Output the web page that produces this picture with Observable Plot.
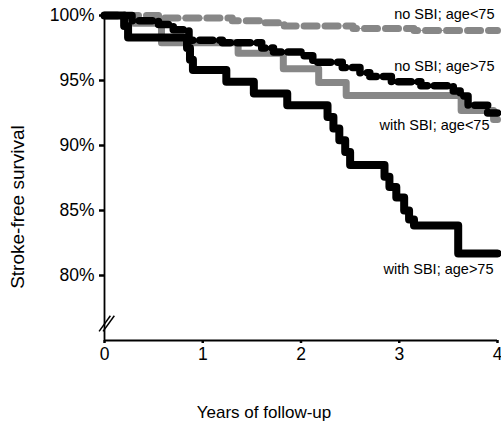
<!DOCTYPE html>
<html>
<head>
<meta charset="utf-8">
<script src="https://cdn.jsdelivr.net/npm/d3@7"></script>
<script src="https://cdn.jsdelivr.net/npm/@observablehq/plot@0.6"></script>
<style>
  html, body { margin: 0; padding: 0; background: #fff; }
</style>
</head>
<body>
<script>
// Kaplan–Meier stroke-free survival (%) by follow-up year, four groups
const noSbiYoungYears = [0, 0.55, 1.3, 1.6, 1.83, 2.53, 3.15, 4.0];
const noSbiYoungSurv  = [100, 99.8, 99.6, 99.45, 99.2, 99.0, 98.85, 98.85];

const noSbiOldYears = [0, 0.28, 0.55, 0.7, 0.86, 1.2, 1.6, 1.72, 2.0, 2.12, 2.42, 2.6, 2.7, 2.92, 3.22, 3.55, 3.62, 3.7, 3.9, 4.0];
const noSbiOldSurv  = [100, 99.6, 99.3, 98.9, 98.1, 97.9, 97.5, 97.2, 96.9, 96.4, 96.0, 95.6, 95.3, 94.9, 94.6, 94.2, 93.8, 93.1, 92.5, 92.5];

const sbiYoungYears = [0, 0.3, 0.58, 1.36, 1.82, 2.18, 2.46, 3.63, 3.96, 4.0];
const sbiYoungSurv  = [100, 99.4, 97.9, 97.1, 95.9, 94.85, 93.85, 92.7, 92.0, 92.0];

const sbiOldYears = [0, 0.2, 0.24, 0.84, 0.87, 0.9, 1.24, 1.52, 1.86, 2.27, 2.33, 2.39, 2.45, 2.5, 2.85, 2.9, 2.97, 3.05, 3.1, 3.15, 3.6, 4.0];
const sbiOldSurv  = [100, 99.2, 98.3, 97.5, 96.6, 95.8, 94.9, 94.0, 93.1, 92.2, 91.3, 90.4, 89.5, 88.5, 87.6, 86.8, 86.0, 85.0, 84.3, 83.85, 81.7, 81.7];

const groupLabels = ["no SBI; age<75", "no SBI; age>75", "with SBI; age<75", "with SBI; age>75"];
const yTicks = [80, 85, 90, 95, 100];
const xTicks = [0, 1, 2, 3, 4];
const xTitle = "Years of follow-up";
const yTitle = "Stroke-free survival";

const rows = (years, surv) => years.map((t, i) => ({year: t, surv: surv[i]}));
const noSbiYoung = rows(noSbiYoungYears, noSbiYoungSurv);
const noSbiOld = rows(noSbiOldYears, noSbiOldSurv);
const sbiYoung = rows(sbiYoungYears, sbiYoungSurv);
const sbiOld = rows(sbiOldYears, sbiOldSurv);

const GRAY = "#878787";
const FONT = "'Liberation Sans', Arial, Helvetica, sans-serif";

// a step curve drawn thick; dashed groups also get a thin dotted connector
function km(data, stroke, width, dash) {
  const base = {x: "year", y: "surv", curve: "step-after", stroke, strokeWidth: width, strokeLinejoin: "round"};
  if (!dash) return [Plot.line(data, base)];
  return [
    Plot.line(data, {...base, strokeWidth: 1, strokeDasharray: "1,3"}),
    Plot.line(data, {...base, strokeDasharray: dash})
  ];
}

function endLabel(data, text, dx, dy) {
  const last = data[data.length - 1];
  return Plot.text([last], {x: "year", y: "surv", text: () => text, textAnchor: "end", dx, dy, fontSize: 14.5});
}

// axis-break tick pair near the bottom of the y axis
const breakA = [{x1: -0.055, y1: 75.7, x2: 0.06, y2: 76.9}];
const breakB = [{x1: -0.015, y1: 75.7, x2: 0.1, y2: 76.9}];

const chart = Plot.plot({
  width: 501,
  height: 427,
  marginLeft: 104,
  marginRight: 4,
  marginTop: 15,
  marginBottom: 87,
  style: {fontFamily: FONT, fontSize: "17px", color: "#000", background: "#fff", overflow: "visible"},
  x: {domain: [0, 4]},
  y: {domain: [75, 100]},
  marks: [
    Plot.axisY({ticks: yTicks, tickFormat: d => d + "%", tickSize: 5, tickPadding: 5, strokeWidth: 2.5, label: null, fontSize: 17.5}),
    Plot.axisX({ticks: xTicks, tickFormat: d => String(d), tickSize: 3, tickPadding: 4, strokeWidth: 2.5, label: null, fontSize: 17.5}),
    Plot.ruleX([0], {y1: 75, y2: 100, strokeWidth: 1.8}),
    Plot.ruleY([75], {x1: 0, x2: 4, strokeWidth: 1.8}),
    Plot.link(breakA, {x1: "x1", y1: "y1", x2: "x2", y2: "y2", strokeWidth: 1.5}),
    Plot.link(breakB, {x1: "x1", y1: "y1", x2: "x2", y2: "y2", strokeWidth: 1.5}),
    ...km(noSbiYoung, GRAY, 7, "13,8"),
    ...km(sbiYoung, GRAY, 7),
    ...km(sbiOld, "#000", 8),
    ...km(noSbiOld, "#000", 7.5, "13,7"),
    endLabel(noSbiYoung, groupLabels[0], -3, -16),
    endLabel(noSbiOld, groupLabels[1], -3, -47),
    endLabel(sbiYoung, groupLabels[2], -8, 6),
    endLabel(sbiOld, groupLabels[3], -4, 16),
    Plot.text([yTitle], {frameAnchor: "left", textAnchor: "middle", text: d => d, rotate: -90, dx: -87, dy: 29, fontSize: 19}),
    Plot.text([xTitle], {frameAnchor: "bottom", textAnchor: "middle", text: d => d, dx: -37, dy: 77, fontSize: 17})
  ]
});

document.body.appendChild(chart);
</script>
</body>
</html>
